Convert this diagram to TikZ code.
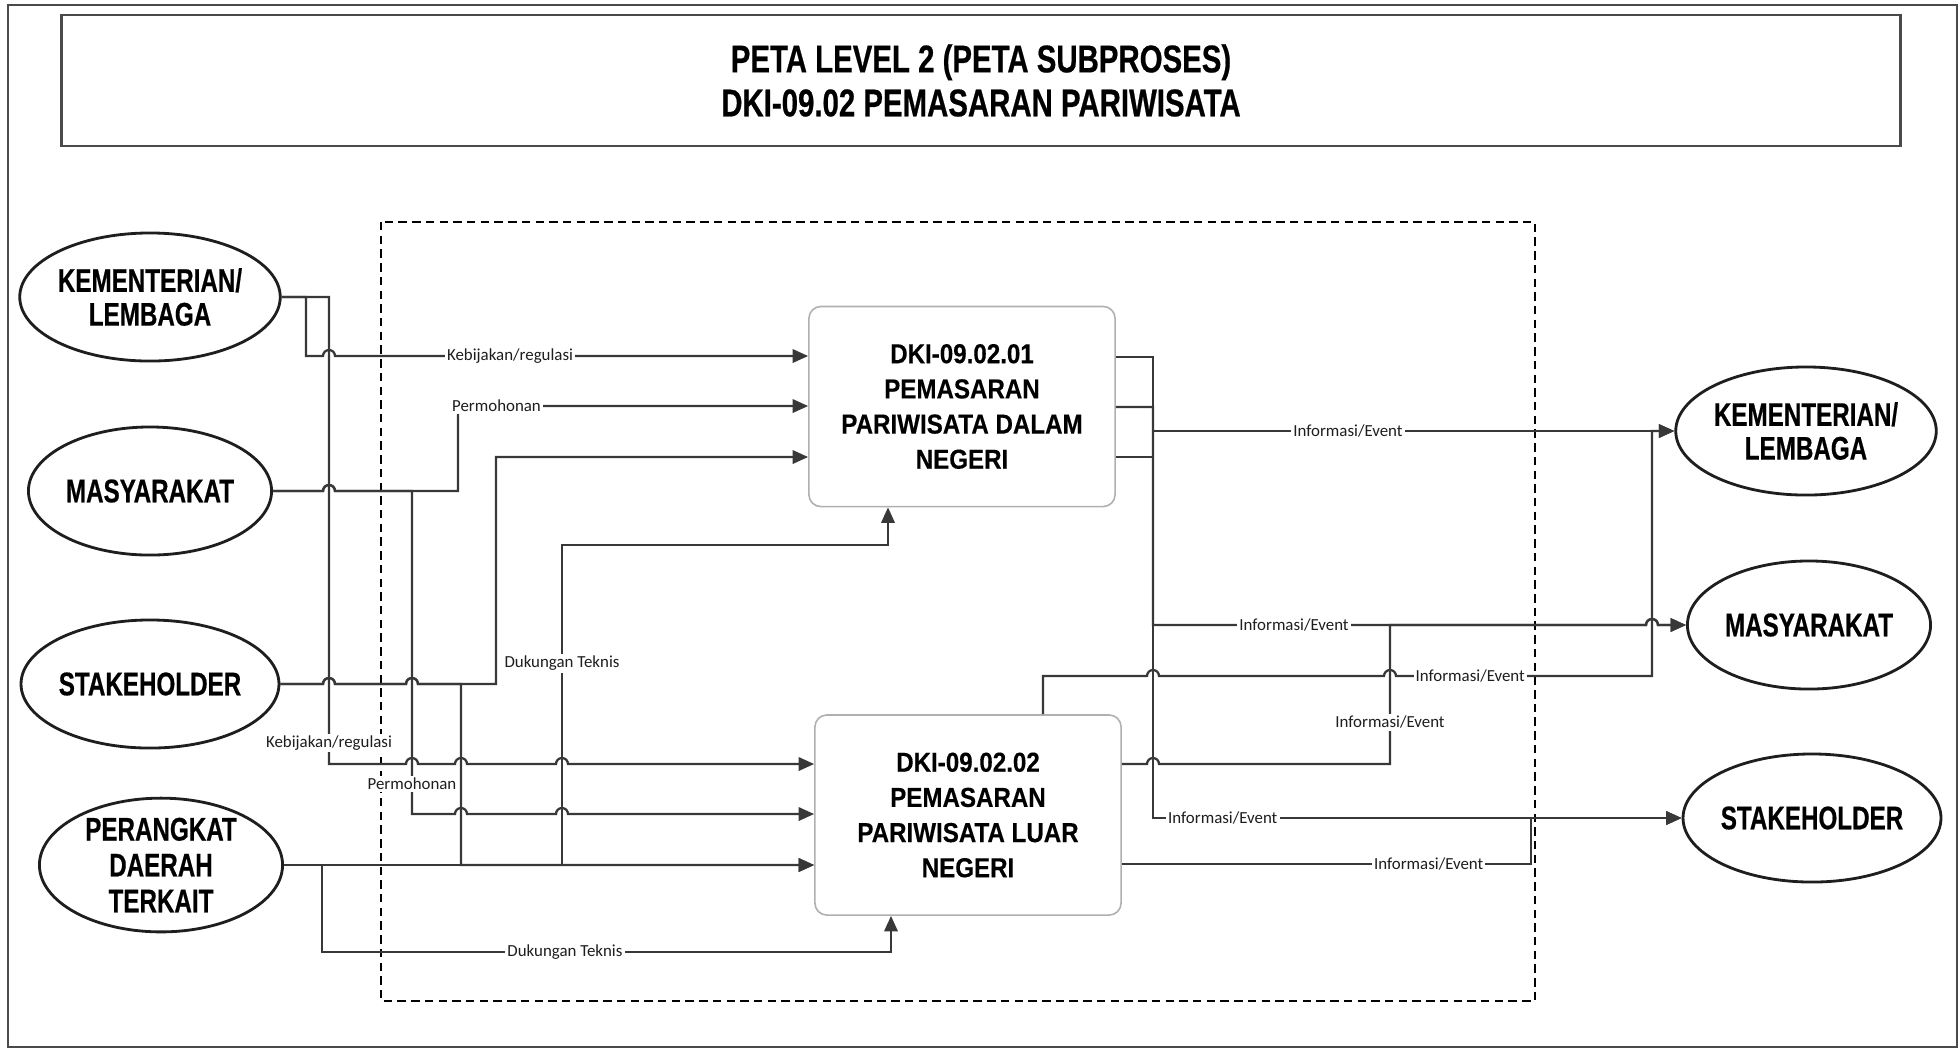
\documentclass[tikz,border=0pt]{standalone}
\usepackage{fontspec}
\setmainfont{Liberation Sans}
\newfontfamily\narrowsans[FakeStretch=0.74,FakeBold=0.5]{Liberation Sans}
\newfontfamily\titlesans[FakeStretch=0.76,FakeBold=0.5]{Liberation Sans}
\newfontfamily\boxsans[FakeStretch=0.88,FakeBold=0.3]{Liberation Sans}
\newfontfamily\notesans{Carlito}
\usetikzlibrary{arrows.meta,positioning,shapes.geometric}
\definecolor{ink}{HTML}{1E1E1E}
\definecolor{linegray}{HTML}{383838}
\definecolor{boxedge}{HTML}{B0B0B0}
\definecolor{framegray}{HTML}{4A4A4A}
\tikzset{
  party/.style={draw=ink,ellipse,line width=0.8pt,fill=white,
                minimum width=2.43cm,minimum height=1.28cm,inner sep=0pt,
                align=center,font=\narrowsans\bfseries\fontsize{9.3}{9.6}\selectfont},
  procbox/.style={draw=boxedge,fill=white,rounded corners=3.4pt,line width=0.45pt,
                  minimum width=3.06cm,minimum height=2.0cm,inner sep=2pt,
                  align=center,font=\boxsans\bfseries\fontsize{7.8}{10}\selectfont},
  titlebox/.style={draw=framegray,line width=0.7pt,
                   minimum width=18.38cm,minimum height=1.31cm,
                   align=center,font=\titlesans\bfseries\fontsize{11}{12.5}\selectfont},
  scopebox/.style={draw=black,line width=0.5pt,dash pattern=on 2.4pt off 1.5pt},
  wire/.style={draw=linegray,line width=0.65pt},
  flowarr/.style={wire,-{Triangle[length=4.4pt,width=3.8pt]}},
  lbl/.style={fill=white,inner sep=0.6pt,text=ink,
              font=\notesans\fontsize{4.8}{5}\selectfont}
}

\begin{document}
\begin{tikzpicture}[x=0.01cm,y=-0.01cm]
  \useasboundingbox[fill=white] (0,0) rectangle (1960,1050);
  \draw[framegray,line width=0.8pt] (8,5) rectangle (1957,1047);
  \node[titlebox] (title) at (981,80.5) {PETA LEVEL 2 (PETA SUBPROSES)\\DKI-09.02 PEMASARAN PARIWISATA};
  \draw[scopebox] (381,222) rectangle (1535,1001);

  % external parties
  \node[party] (kl) at (150,297) {KEMENTERIAN/\\LEMBAGA};
  \node[party] (ms) at (150,491) {MASYARAKAT};
  \node[party] (sh) at (150,684) {STAKEHOLDER};
  \node[party,minimum height=1.3cm,font=\narrowsans\bfseries\fontsize{9.3}{10.2}\selectfont] (pd) at (161,865) {PERANGKAT\\DAERAH\\TERKAIT};
  \node[party] (rk) at (1806,431) {KEMENTERIAN/\\LEMBAGA};
  \node[party] (rm) at (1809,625) {MASYARAKAT};
  \node[party] (rs) at (1812,818) {STAKEHOLDER};

  % subprocesses
  \node[procbox] (b1) at (962,406.5) {DKI-09.02.01\\PEMASARAN\\PARIWISATA DALAM\\NEGERI};
  \node[procbox] (b2) at (968,815) {DKI-09.02.02\\PEMASARAN\\PARIWISATA LUAR\\NEGERI};

  % inputs
  \draw[flowarr] (kl.east) -- (306,297) -- (306,356) -- (323,356) arc[start angle=180,end angle=360,radius=6]
    -- (b1.west |- 0,356) node[lbl,pos=0.37] (kb1) {Kebijakan/regulasi};
  \draw[flowarr] (kl.east) -- (329,297) -- (329,764) node[lbl,pos=0.955] (kb2) {Kebijakan/regulasi}
    -- (406,764) arc[start angle=180,end angle=360,radius=6] -- (455,764) arc[start angle=180,end angle=360,radius=6]
    -- (556,764) arc[start angle=180,end angle=360,radius=6] -- (b2.west |- 0,764);
  \draw[flowarr] (ms.east) -- (323,491) arc[start angle=180,end angle=360,radius=6] -- (458,491) -- (458,406)
    -- (b1.west |- 0,406) node[lbl,pos=0.11] (pm1) {Permohonan};
  \draw[flowarr] (ms.east) -- (323,491) arc[start angle=180,end angle=360,radius=6] -- (412,491)
    -- (412,814) node[lbl,pos=0.907] (pm2) {Permohonan}
    -- (455,814) arc[start angle=180,end angle=360,radius=6] -- (556,814) arc[start angle=180,end angle=360,radius=6]
    -- (b2.west |- 0,814);
  \draw[flowarr] (sh.east) -- (323,684) arc[start angle=180,end angle=360,radius=6] -- (406,684)
    arc[start angle=180,end angle=360,radius=6] -- (496,684) -- (496,457) -- (b1.west |- 0,457);
  \draw[flowarr] (sh.east) -- (323,684) arc[start angle=180,end angle=360,radius=6] -- (406,684)
    arc[start angle=180,end angle=360,radius=6] -- (461,684) -- (461,865) -- (b2.west |- 0,865);
  \draw[flowarr] (pd.east) -- (b2.west |- 0,865);
  \draw[flowarr] (pd.east) -- (562,865) -- (562,545) node[lbl,pos=0.63] (dk1) {Dukungan Teknis}
    -- (888,545) -- (b1.south -| 888,0);
  \draw[flowarr] (pd.east) -- (322,865) -- (322,952) -- (891,952) node[lbl,pos=0.427] (dk2) {Dukungan Teknis}
    -- (b2.south -| 891,0);

  % outputs
  \draw[flowarr] (b1.east |- 0,357) -- (1153,357) -- (1153,431) -- (rk.west) node[lbl,pos=0.374] (if1) {Informasi/Event};
  \draw[flowarr] (b1.east |- 0,407) -- (1153,407) -- (1153,625) -- (1646,625) node[lbl,pos=0.286] (if2) {Informasi/Event}
    arc[start angle=180,end angle=360,radius=6] -- (rm.west);
  \draw[flowarr] (b1.east |- 0,457) -- (1153,457) -- (1153,818) -- (rs.west) node[lbl,pos=0.132] (if3) {Informasi/Event};
  \draw[flowarr] (b2.north -| 1043,0) -- (1043,676) -- (1147,676) arc[start angle=180,end angle=360,radius=6]
    -- (1384,676) arc[start angle=180,end angle=360,radius=6] -- (1652,676) node[lbl,pos=0.29] (if4) {Informasi/Event}
    -- (1652,431) -- (rk.west);
  \draw[flowarr] (b2.east |- 0,764) -- (1147,764) arc[start angle=180,end angle=360,radius=6]
    -- (1390,764) -- (1390,625) node[lbl,pos=0.30] (if5) {Informasi/Event}
    -- (1646,625) arc[start angle=180,end angle=360,radius=6] -- (rm.west);
  \draw[flowarr] (b2.east |- 0,864) -- (1531,864) node[lbl,pos=0.75] (if6) {Informasi/Event}
    -- (1531,818) -- (rs.west);
\end{tikzpicture}
\end{document}
